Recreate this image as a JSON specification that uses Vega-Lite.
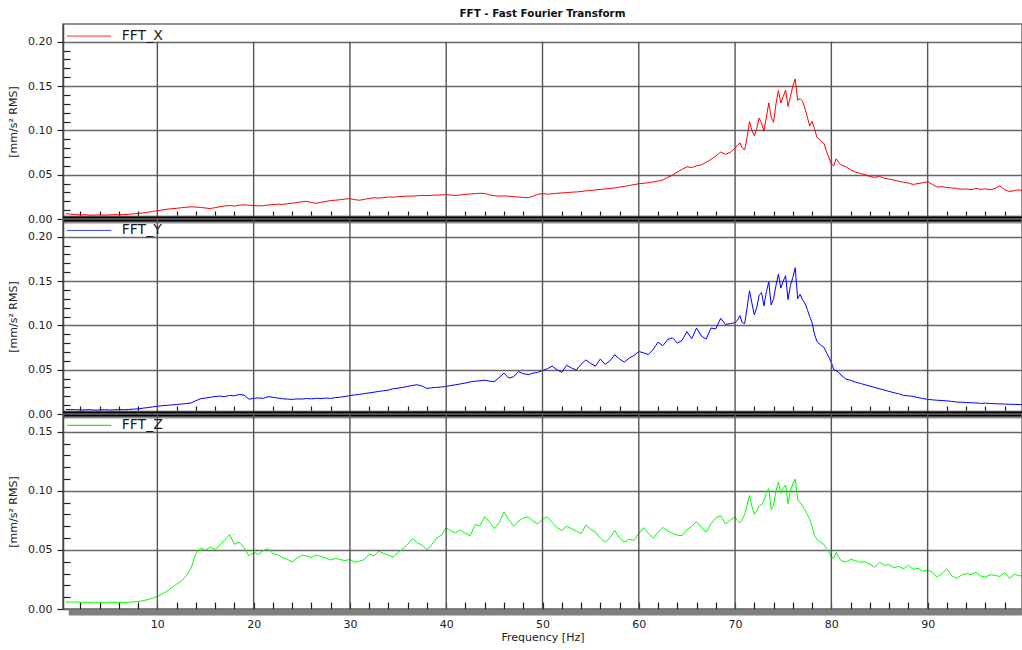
{
  "$schema": "https://vega.github.io/schema/vega-lite/v6.json",
  "autosize": {"type": "pad"},
  "padding": {"left": 6, "top": 8, "right": 0, "bottom": 6},
  "title": {"text": "FFT - Fast Fourier Transform", "fontSize": 10.4, "fontWeight": "bold", "font": "DejaVu Sans", "color": "#111111", "anchor": "middle", "offset": 4, "frame": "group"},
  "config": {
    "font": "DejaVu Sans",
    "view": {"stroke": "#6e6e6e", "strokeWidth": 1.5},
    "axis": {"labelFont": "DejaVu Sans", "titleFont": "DejaVu Sans"}
  },
  "spacing": 0,
  "bounds": "flush",
  "resolve": {"scale": {"x": "independent", "y": "independent"}, "axis": {"x": "independent", "y": "independent"}},
  "datasets": {
    "fft": [
      {"f":0.5,"x":0.0060,"y":0.0052,"z":0.0060},{"f":1.0,"x":0.0055,"y":0.0048,"z":0.0058},{"f":1.5,"x":0.0050,"y":0.0050,"z":0.0059},{"f":2.0,"x":0.0046,"y":0.0045,"z":0.0057},
      {"f":2.5,"x":0.0048,"y":0.0047,"z":0.0058},{"f":3.0,"x":0.0043,"y":0.0049,"z":0.0056},{"f":3.5,"x":0.0045,"y":0.0044,"z":0.0058},{"f":4.0,"x":0.0047,"y":0.0046,"z":0.0057},
      {"f":4.5,"x":0.0044,"y":0.0049,"z":0.0055},{"f":5.0,"x":0.0046,"y":0.0045,"z":0.0058},{"f":5.5,"x":0.0049,"y":0.0047,"z":0.0056},{"f":6.0,"x":0.0047,"y":0.0050,"z":0.0057},
      {"f":6.5,"x":0.0050,"y":0.0048,"z":0.0055},{"f":7.0,"x":0.0053,"y":0.0051,"z":0.0057},{"f":7.5,"x":0.0058,"y":0.0055,"z":0.0059},{"f":8.0,"x":0.0062,"y":0.0058,"z":0.0063},
      {"f":8.5,"x":0.0068,"y":0.0066,"z":0.0070},{"f":9.0,"x":0.0076,"y":0.0072,"z":0.0080},{"f":9.5,"x":0.0085,"y":0.0080,"z":0.0092},{"f":10.0,"x":0.0094,"y":0.0087,"z":0.0106},
      {"f":10.5,"x":0.0102,"y":0.0094,"z":0.0128},{"f":11.0,"x":0.0110,"y":0.0098,"z":0.0152},{"f":11.5,"x":0.0116,"y":0.0103,"z":0.0180},{"f":12.0,"x":0.0121,"y":0.0107,"z":0.0210},
      {"f":12.5,"x":0.0127,"y":0.0112,"z":0.0238},{"f":13.0,"x":0.0133,"y":0.0118,"z":0.0280},{"f":13.5,"x":0.0137,"y":0.0124,"z":0.0345},{"f":14.0,"x":0.0135,"y":0.0150,"z":0.0470},
      {"f":14.5,"x":0.0130,"y":0.0172,"z":0.0515},{"f":15.0,"x":0.0124,"y":0.0180,"z":0.0498},{"f":15.5,"x":0.0118,"y":0.0188,"z":0.0525},{"f":16.0,"x":0.0128,"y":0.0198,"z":0.0505},
      {"f":16.5,"x":0.0138,"y":0.0202,"z":0.0540},{"f":17.0,"x":0.0148,"y":0.0196,"z":0.0585},{"f":17.5,"x":0.0152,"y":0.0210,"z":0.0630},{"f":18.0,"x":0.0146,"y":0.0205,"z":0.0548},
      {"f":18.5,"x":0.0156,"y":0.0220,"z":0.0565},{"f":19.0,"x":0.0160,"y":0.0214,"z":0.0520},{"f":19.5,"x":0.0156,"y":0.0168,"z":0.0450},{"f":20.0,"x":0.0152,"y":0.0176,"z":0.0478},
      {"f":20.5,"x":0.0148,"y":0.0182,"z":0.0462},{"f":21.0,"x":0.0150,"y":0.0176,"z":0.0495},{"f":21.5,"x":0.0158,"y":0.0196,"z":0.0510},{"f":22.0,"x":0.0162,"y":0.0188,"z":0.0470},
      {"f":22.5,"x":0.0168,"y":0.0180,"z":0.0458},{"f":23.0,"x":0.0165,"y":0.0172,"z":0.0435},{"f":23.5,"x":0.0172,"y":0.0168,"z":0.0420},{"f":24.0,"x":0.0178,"y":0.0165,"z":0.0398},
      {"f":24.5,"x":0.0186,"y":0.0170,"z":0.0430},{"f":25.0,"x":0.0194,"y":0.0168,"z":0.0455},{"f":25.5,"x":0.0200,"y":0.0175,"z":0.0450},{"f":26.0,"x":0.0186,"y":0.0170,"z":0.0438},
      {"f":26.5,"x":0.0176,"y":0.0178,"z":0.0456},{"f":27.0,"x":0.0190,"y":0.0174,"z":0.0445},{"f":27.5,"x":0.0198,"y":0.0180,"z":0.0430},{"f":28.0,"x":0.0208,"y":0.0176,"z":0.0415},
      {"f":28.5,"x":0.0212,"y":0.0185,"z":0.0428},{"f":29.0,"x":0.0218,"y":0.0190,"z":0.0418},{"f":29.5,"x":0.0225,"y":0.0198,"z":0.0410},{"f":30.0,"x":0.0230,"y":0.0208,"z":0.0420},
      {"f":30.5,"x":0.0218,"y":0.0215,"z":0.0395},{"f":31.0,"x":0.0212,"y":0.0222,"z":0.0405},{"f":31.5,"x":0.0222,"y":0.0230,"z":0.0418},{"f":32.0,"x":0.0232,"y":0.0238,"z":0.0465},
      {"f":32.5,"x":0.0240,"y":0.0246,"z":0.0448},{"f":33.0,"x":0.0236,"y":0.0255,"z":0.0490},{"f":33.5,"x":0.0242,"y":0.0262,"z":0.0470},{"f":34.0,"x":0.0248,"y":0.0270,"z":0.0455},
      {"f":34.5,"x":0.0246,"y":0.0285,"z":0.0440},{"f":35.0,"x":0.0252,"y":0.0292,"z":0.0478},{"f":35.5,"x":0.0255,"y":0.0300,"z":0.0510},{"f":36.0,"x":0.0258,"y":0.0312,"z":0.0548},
      {"f":36.5,"x":0.0258,"y":0.0322,"z":0.0595},{"f":37.0,"x":0.0262,"y":0.0330,"z":0.0560},{"f":37.5,"x":0.0266,"y":0.0315,"z":0.0540},{"f":38.0,"x":0.0264,"y":0.0288,"z":0.0500},
      {"f":38.5,"x":0.0268,"y":0.0296,"z":0.0545},{"f":39.0,"x":0.0270,"y":0.0300,"z":0.0600},{"f":39.5,"x":0.0272,"y":0.0305,"z":0.0625},{"f":40.0,"x":0.0274,"y":0.0310,"z":0.0690},
      {"f":40.5,"x":0.0270,"y":0.0322,"z":0.0660},{"f":41.0,"x":0.0266,"y":0.0330,"z":0.0645},{"f":41.5,"x":0.0272,"y":0.0340,"z":0.0668},{"f":42.0,"x":0.0278,"y":0.0350,"z":0.0640},
      {"f":42.5,"x":0.0282,"y":0.0362,"z":0.0620},{"f":43.0,"x":0.0286,"y":0.0370,"z":0.0715},{"f":43.5,"x":0.0290,"y":0.0375,"z":0.0705},{"f":44.0,"x":0.0288,"y":0.0382,"z":0.0780},
      {"f":44.5,"x":0.0272,"y":0.0370,"z":0.0735},{"f":45.0,"x":0.0262,"y":0.0365,"z":0.0680},{"f":45.5,"x":0.0258,"y":0.0410,"z":0.0730},{"f":46.0,"x":0.0260,"y":0.0462,"z":0.0820},
      {"f":46.5,"x":0.0258,"y":0.0405,"z":0.0755},{"f":47.0,"x":0.0252,"y":0.0420,"z":0.0700},{"f":47.5,"x":0.0248,"y":0.0478,"z":0.0745},{"f":48.0,"x":0.0244,"y":0.0455,"z":0.0770},
      {"f":48.5,"x":0.0240,"y":0.0445,"z":0.0780},{"f":49.0,"x":0.0256,"y":0.0460,"z":0.0745},{"f":49.5,"x":0.0278,"y":0.0470,"z":0.0720},{"f":50.0,"x":0.0286,"y":0.0490,"z":0.0760},
      {"f":50.5,"x":0.0280,"y":0.0510,"z":0.0780},{"f":51.0,"x":0.0284,"y":0.0540,"z":0.0730},{"f":51.5,"x":0.0290,"y":0.0500,"z":0.0690},{"f":52.0,"x":0.0294,"y":0.0470,"z":0.0665},
      {"f":52.5,"x":0.0298,"y":0.0550,"z":0.0700},{"f":53.0,"x":0.0302,"y":0.0520,"z":0.0680},{"f":53.5,"x":0.0305,"y":0.0495,"z":0.0660},{"f":54.0,"x":0.0310,"y":0.0560,"z":0.0637},
      {"f":54.5,"x":0.0318,"y":0.0610,"z":0.0710},{"f":55.0,"x":0.0322,"y":0.0570,"z":0.0675},{"f":55.5,"x":0.0328,"y":0.0540,"z":0.0650},{"f":56.0,"x":0.0334,"y":0.0620,"z":0.0600},
      {"f":56.5,"x":0.0338,"y":0.0560,"z":0.0566},{"f":57.0,"x":0.0346,"y":0.0600,"z":0.0600},{"f":57.5,"x":0.0350,"y":0.0668,"z":0.0665},{"f":58.0,"x":0.0360,"y":0.0620,"z":0.0600},
      {"f":58.5,"x":0.0368,"y":0.0585,"z":0.0566},{"f":59.0,"x":0.0378,"y":0.0630,"z":0.0590},{"f":59.5,"x":0.0388,"y":0.0660,"z":0.0580},{"f":60.0,"x":0.0398,"y":0.0705,"z":0.0640},
      {"f":60.5,"x":0.0402,"y":0.0690,"z":0.0688},{"f":61.0,"x":0.0410,"y":0.0670,"z":0.0640},{"f":61.5,"x":0.0418,"y":0.0730,"z":0.0600},{"f":62.0,"x":0.0428,"y":0.0810,"z":0.0650},
      {"f":62.5,"x":0.0440,"y":0.0770,"z":0.0690},{"f":63.0,"x":0.0470,"y":0.0840,"z":0.0660},{"f":63.5,"x":0.0495,"y":0.0860,"z":0.0640},{"f":64.0,"x":0.0530,"y":0.0800,"z":0.0625},
      {"f":64.5,"x":0.0560,"y":0.0830,"z":0.0620},{"f":65.0,"x":0.0590,"y":0.0930,"z":0.0670},{"f":65.5,"x":0.0580,"y":0.0850,"z":0.0700},{"f":66.0,"x":0.0600,"y":0.0970,"z":0.0740},
      {"f":66.5,"x":0.0612,"y":0.0880,"z":0.0690},{"f":67.0,"x":0.0640,"y":0.0845,"z":0.0650},{"f":67.5,"x":0.0672,"y":0.0970,"z":0.0720},{"f":68.0,"x":0.0710,"y":0.0960,"z":0.0770},
      {"f":68.5,"x":0.0755,"y":0.1080,"z":0.0790},{"f":69.0,"x":0.0730,"y":0.1010,"z":0.0720},{"f":69.5,"x":0.0752,"y":0.1020,"z":0.0750},{"f":70.0,"x":0.0800,"y":0.1030,"z":0.0780},
      {"f":70.25,"x":0.0830,"y":0.1060,"z":0.0750},{"f":70.5,"x":0.0860,"y":0.1110,"z":0.0730},{"f":70.75,"x":0.0800,"y":0.1030,"z":0.0760},{"f":71.0,"x":0.0780,"y":0.1020,"z":0.0800},
      {"f":71.25,"x":0.0920,"y":0.1200,"z":0.0880},{"f":71.5,"x":0.1100,"y":0.1390,"z":0.0960},{"f":71.75,"x":0.1000,"y":0.1250,"z":0.0870},{"f":72.0,"x":0.0940,"y":0.1120,"z":0.0800},
      {"f":72.25,"x":0.1020,"y":0.1200,"z":0.0830},{"f":72.5,"x":0.1140,"y":0.1340,"z":0.0870},{"f":72.75,"x":0.1080,"y":0.1370,"z":0.0880},{"f":73.0,"x":0.0990,"y":0.1220,"z":0.0920},
      {"f":73.25,"x":0.1150,"y":0.1380,"z":0.0980},{"f":73.5,"x":0.1310,"y":0.1490,"z":0.1020},{"f":73.75,"x":0.1150,"y":0.1230,"z":0.0840},{"f":74.0,"x":0.1090,"y":0.1300,"z":0.0880},
      {"f":74.25,"x":0.1300,"y":0.1450,"z":0.1000},{"f":74.5,"x":0.1450,"y":0.1580,"z":0.1075},{"f":74.75,"x":0.1310,"y":0.1420,"z":0.0980},{"f":75.0,"x":0.1380,"y":0.1500,"z":0.1020},
      {"f":75.25,"x":0.1455,"y":0.1560,"z":0.1050},{"f":75.5,"x":0.1270,"y":0.1290,"z":0.0890},{"f":75.75,"x":0.1380,"y":0.1450,"z":0.1000},{"f":76.0,"x":0.1500,"y":0.1540,"z":0.1060},
      {"f":76.25,"x":0.1580,"y":0.1650,"z":0.1100},{"f":76.5,"x":0.1340,"y":0.1300,"z":0.0930},{"f":76.75,"x":0.1360,"y":0.1350,"z":0.0900},{"f":77.0,"x":0.1330,"y":0.1290,"z":0.0870},
      {"f":77.25,"x":0.1250,"y":0.1250,"z":0.0840},{"f":77.5,"x":0.1150,"y":0.1180,"z":0.0800},{"f":77.75,"x":0.1050,"y":0.1100,"z":0.0760},{"f":78.0,"x":0.1100,"y":0.1030,"z":0.0700},
      {"f":78.25,"x":0.1020,"y":0.0900,"z":0.0620},{"f":78.5,"x":0.0920,"y":0.0820,"z":0.0590},{"f":78.75,"x":0.0900,"y":0.0790,"z":0.0570},{"f":79.0,"x":0.0870,"y":0.0770,"z":0.0560},
      {"f":79.25,"x":0.0850,"y":0.0750,"z":0.0545},{"f":79.5,"x":0.0760,"y":0.0690,"z":0.0510},{"f":79.75,"x":0.0690,"y":0.0640,"z":0.0480},{"f":80.0,"x":0.0620,"y":0.0580,"z":0.0440},
      {"f":80.25,"x":0.0600,"y":0.0500,"z":0.0430},{"f":80.5,"x":0.0680,"y":0.0490,"z":0.0480},{"f":80.75,"x":0.0640,"y":0.0470,"z":0.0440},{"f":81.0,"x":0.0610,"y":0.0440,"z":0.0410},
      {"f":81.5,"x":0.0590,"y":0.0395,"z":0.0397},{"f":82.0,"x":0.0555,"y":0.0380,"z":0.0420},{"f":82.5,"x":0.0530,"y":0.0360,"z":0.0410},{"f":83.0,"x":0.0515,"y":0.0345,"z":0.0395},
      {"f":83.5,"x":0.0500,"y":0.0330,"z":0.0400},{"f":84.0,"x":0.0480,"y":0.0315,"z":0.0380},{"f":84.5,"x":0.0470,"y":0.0300,"z":0.0354},{"f":85.0,"x":0.0480,"y":0.0285,"z":0.0395},
      {"f":85.5,"x":0.0460,"y":0.0270,"z":0.0370},{"f":86.0,"x":0.0450,"y":0.0255,"z":0.0375},{"f":86.5,"x":0.0440,"y":0.0240,"z":0.0350},{"f":87.0,"x":0.0425,"y":0.0228,"z":0.0360},
      {"f":87.5,"x":0.0415,"y":0.0210,"z":0.0340},{"f":88.0,"x":0.0405,"y":0.0205,"z":0.0370},{"f":88.5,"x":0.0390,"y":0.0198,"z":0.0335},{"f":89.0,"x":0.0400,"y":0.0185,"z":0.0345},
      {"f":89.5,"x":0.0410,"y":0.0175,"z":0.0320},{"f":90.0,"x":0.0420,"y":0.0165,"z":0.0330},{"f":90.5,"x":0.0390,"y":0.0160,"z":0.0310},{"f":91.0,"x":0.0360,"y":0.0155,"z":0.0270},
      {"f":91.5,"x":0.0365,"y":0.0152,"z":0.0300},{"f":92.0,"x":0.0355,"y":0.0148,"z":0.0340},{"f":92.5,"x":0.0350,"y":0.0142,"z":0.0280},{"f":93.0,"x":0.0345,"y":0.0135,"z":0.0260},
      {"f":93.5,"x":0.0335,"y":0.0133,"z":0.0285},{"f":94.0,"x":0.0340,"y":0.0130,"z":0.0300},{"f":94.5,"x":0.0330,"y":0.0127,"z":0.0290},{"f":95.0,"x":0.0345,"y":0.0125,"z":0.0310},
      {"f":95.5,"x":0.0335,"y":0.0120,"z":0.0280},{"f":96.0,"x":0.0340,"y":0.0122,"z":0.0270},{"f":96.5,"x":0.0330,"y":0.0119,"z":0.0290},{"f":97.0,"x":0.0345,"y":0.0116,"z":0.0285},
      {"f":97.5,"x":0.0375,"y":0.0114,"z":0.0275},{"f":98.0,"x":0.0330,"y":0.0112,"z":0.0310},{"f":98.5,"x":0.0310,"y":0.0110,"z":0.0260},{"f":99.0,"x":0.0320,"y":0.0108,"z":0.0295},
      {"f":99.5,"x":0.0330,"y":0.0107,"z":0.0280},{"f":100.0,"x":0.0315,"y":0.0105,"z":0.0290}
    ],
    "majors": [{"g":10},{"g":20},{"g":30},{"g":40},{"g":50},{"g":60},{"g":70},{"g":80},{"g":90}]
  },
  "vconcat": [
    {
      "width": 959, "height": 195,
      "resolve": {"axis": {"x": "independent", "y": "independent"}},
      "layer": [
        {"data": {"name": "fft"}, "mark": {"type": "line", "stroke": "#ff0000", "strokeWidth": 1, "clip": true},
         "encoding": {
           "x": {"field": "f", "type": "quantitative", "scale": {"domain": [0.2, 99.8], "nice": false, "zero": false},
                 "axis": {"values": [2,4,6,8,12,14,16,18,22,24,26,28,32,34,36,38,42,44,46,48,52,54,56,58,62,64,66,68,72,74,76,78,82,84,86,88,92,94,96,98],
                          "tickSize": -8, "tickColor": "#1a1a1a", "tickWidth": 1.2, "labels": false, "title": null, "domainColor": "#8c8c8c", "domainWidth": 8, "grid": false}},
           "y": {"field": "x", "type": "quantitative", "scale": {"domain": [0, 0.22], "nice": false},
                 "axis": {"values": [0,0.01,0.02,0.03,0.04,0.05,0.06,0.07,0.08,0.09,0.1,0.11,0.12,0.13,0.14,0.15,0.16,0.17,0.18,0.19,0.2],
                          "format": ".2f", "labelExpr": "round(datum.value*100) % 5 === 0 ? datum.label : ''",
                          "tickSize": {"condition": {"test": "round(datum.value*100) % 5 !== 0", "value": -7}, "value": 6},
                          "grid": true, "gridOpacity": {"condition": {"test": "round(datum.value*100) % 5 !== 0", "value": 0}, "value": 1},
                          "gridColor": "#666666", "gridWidth": 1.4, "tickColor": "#222222", "tickWidth": 1.2, "domainColor": "#444444", "domainWidth": 1.5,
                          "labelFontSize": 11, "labelColor": "#222222", "labelPadding": 5, "labelOverlap": false, "labelBound": false,
                          "title": "[mm/s² RMS]", "titleFontSize": 11, "titleFontWeight": "normal", "titleColor": "#222222", "titlePadding": 9}}
         }},
        {"data": {"name": "majors"}, "mark": {"type": "rule", "stroke": "#555555", "strokeWidth": 1.4},
         "encoding": {"x": {"field": "g", "type": "quantitative", "axis": null},
                      "y": {"datum": 0, "type": "quantitative", "axis": null},
                      "y2": {"datum": 0.2}}},
        {"data": {"values": [{"label": "FFT_X"}]}, "mark": {"type": "rule", "stroke": "#ff3030", "strokeWidth": 1},
         "encoding": {"x": {"datum": 0.62, "type": "quantitative", "axis": null}, "x2": {"datum": 5.2},
                      "y": {"datum": 0.2064, "type": "quantitative", "axis": null}}},
        {"data": {"values": [{"label": "FFT_X"}]}, "mark": {"type": "text", "align": "left", "baseline": "middle", "fontSize": 14, "color": "#1a1a1a"},
         "encoding": {"x": {"datum": 6.3, "type": "quantitative", "axis": null},
                      "y": {"datum": 0.2064, "type": "quantitative", "axis": null},
                      "text": {"field": "label"}}},
        {"data": {"values": [{}]}, "mark": {"type": "rule", "stroke": "#000000", "strokeWidth": 5},
         "encoding": {"y": {"datum": 0, "type": "quantitative", "axis": null}}}
      ]
    },
    {
      "width": 959, "height": 195,
      "resolve": {"axis": {"x": "independent", "y": "independent"}},
      "layer": [
        {"data": {"name": "fft"}, "mark": {"type": "line", "stroke": "#0000ff", "strokeWidth": 1, "clip": true},
         "encoding": {
           "x": {"field": "f", "type": "quantitative", "scale": {"domain": [0.2, 99.8], "nice": false, "zero": false},
                 "axis": {"values": [2,4,6,8,12,14,16,18,22,24,26,28,32,34,36,38,42,44,46,48,52,54,56,58,62,64,66,68,72,74,76,78,82,84,86,88,92,94,96,98],
                          "tickSize": -8, "tickColor": "#1a1a1a", "tickWidth": 1.2, "labels": false, "title": null, "domainColor": "#8c8c8c", "domainWidth": 8, "grid": false}},
           "y": {"field": "y", "type": "quantitative", "scale": {"domain": [0, 0.22], "nice": false},
                 "axis": {"values": [0,0.01,0.02,0.03,0.04,0.05,0.06,0.07,0.08,0.09,0.1,0.11,0.12,0.13,0.14,0.15,0.16,0.17,0.18,0.19,0.2],
                          "format": ".2f", "labelExpr": "round(datum.value*100) % 5 === 0 ? datum.label : ''",
                          "tickSize": {"condition": {"test": "round(datum.value*100) % 5 !== 0", "value": -7}, "value": 6},
                          "grid": true, "gridOpacity": {"condition": {"test": "round(datum.value*100) % 5 !== 0", "value": 0}, "value": 1},
                          "gridColor": "#666666", "gridWidth": 1.4, "tickColor": "#222222", "tickWidth": 1.2, "domainColor": "#444444", "domainWidth": 1.5,
                          "labelFontSize": 11, "labelColor": "#222222", "labelPadding": 5, "labelOverlap": false, "labelBound": false,
                          "title": "[mm/s² RMS]", "titleFontSize": 11, "titleFontWeight": "normal", "titleColor": "#222222", "titlePadding": 9}}
         }},
        {"data": {"name": "majors"}, "mark": {"type": "rule", "stroke": "#555555", "strokeWidth": 1.4},
         "encoding": {"x": {"field": "g", "type": "quantitative", "axis": null},
                      "y": {"datum": 0, "type": "quantitative", "axis": null},
                      "y2": {"datum": 0.22}}},
        {"data": {"values": [{"label": "FFT_Y"}]}, "mark": {"type": "rule", "stroke": "#4040ff", "strokeWidth": 1},
         "encoding": {"x": {"datum": 0.62, "type": "quantitative", "axis": null}, "x2": {"datum": 5.2},
                      "y": {"datum": 0.2071, "type": "quantitative", "axis": null}}},
        {"data": {"values": [{"label": "FFT_Y"}]}, "mark": {"type": "text", "align": "left", "baseline": "middle", "fontSize": 14, "color": "#1a1a1a"},
         "encoding": {"x": {"datum": 6.3, "type": "quantitative", "axis": null},
                      "y": {"datum": 0.2071, "type": "quantitative", "axis": null},
                      "text": {"field": "label"}}},
        {"data": {"values": [{}]}, "mark": {"type": "rule", "stroke": "#000000", "strokeWidth": 5},
         "encoding": {"y": {"datum": 0, "type": "quantitative", "axis": null}}}
      ]
    },
    {
      "width": 959, "height": 195,
      "resolve": {"axis": {"x": "independent", "y": "independent"}},
      "layer": [
        {"data": {"name": "fft"}, "mark": {"type": "line", "stroke": "#00ff00", "strokeWidth": 1, "clip": true},
         "encoding": {
           "x": {"field": "f", "type": "quantitative", "scale": {"domain": [0.2, 99.8], "nice": false, "zero": false},
                 "axis": {"values": [2,4,6,8,10,12,14,16,18,20,22,24,26,28,30,32,34,36,38,40,42,44,46,48,50,52,54,56,58,60,62,64,66,68,70,72,74,76,78,80,82,84,86,88,90,92,94,96,98],
                          "labelExpr": "datum.value % 10 === 0 ? datum.label : ''",
                          "tickSize": -7, "tickColor": "#1a1a1a", "tickWidth": 1.2, "domain": false, "grid": false,
                          "labelFontSize": 11, "labelColor": "#222222", "labelPadding": 16, "labelOverlap": false, "labelFlush": false, "labelBound": false,
                          "title": "Frequency [Hz]", "titleFontSize": 11, "titleFontWeight": "normal", "titleColor": "#222222", "titlePadding": 2}},
           "y": {"field": "z", "type": "quantitative", "scale": {"domain": [0, 0.165], "nice": false},
                 "axis": {"values": [0,0.01,0.02,0.03,0.04,0.05,0.06,0.07,0.08,0.09,0.1,0.11,0.12,0.13,0.14,0.15],
                          "format": ".2f", "labelExpr": "round(datum.value*100) % 5 === 0 ? datum.label : ''",
                          "tickSize": {"condition": {"test": "round(datum.value*100) % 5 !== 0", "value": -7}, "value": 6},
                          "grid": true, "gridOpacity": {"condition": {"test": "round(datum.value*100) % 5 !== 0", "value": 0}, "value": 1},
                          "gridColor": "#666666", "gridWidth": 1.4, "tickColor": "#222222", "tickWidth": 1.2, "domainColor": "#444444", "domainWidth": 1.5,
                          "labelFontSize": 11, "labelColor": "#222222", "labelPadding": 5, "labelOverlap": false, "labelBound": false,
                          "title": "[mm/s² RMS]", "titleFontSize": 11, "titleFontWeight": "normal", "titleColor": "#222222", "titlePadding": 9}}
         }},
        {"data": {"name": "majors"}, "mark": {"type": "rule", "stroke": "#555555", "strokeWidth": 1.4},
         "encoding": {"x": {"field": "g", "type": "quantitative", "axis": null},
                      "y": {"datum": 0, "type": "quantitative", "axis": null},
                      "y2": {"datum": 0.165}}},
        {"data": {"values": [{"label": "FFT_Z"}]}, "mark": {"type": "rule", "stroke": "#22ee22", "strokeWidth": 1.2},
         "encoding": {"x": {"datum": 0.62, "type": "quantitative", "axis": null}, "x2": {"datum": 5.2},
                      "y": {"datum": 0.1553, "type": "quantitative", "axis": null}}},
        {"data": {"values": [{"label": "FFT_Z"}]}, "mark": {"type": "text", "align": "left", "baseline": "middle", "fontSize": 14, "color": "#1a1a1a"},
         "encoding": {"x": {"datum": 6.3, "type": "quantitative", "axis": null},
                      "y": {"datum": 0.1553, "type": "quantitative", "axis": null},
                      "text": {"field": "label"}}},
        {"data": {"values": [{}]}, "mark": {"type": "rule", "stroke": "#808080", "strokeWidth": 6, "yOffset": 3.5},
         "encoding": {"x": {"datum": 0.8, "type": "quantitative", "axis": null}, "x2": {"datum": 99.8},
                      "y": {"datum": 0, "type": "quantitative", "axis": null}}}
      ]
    }
  ]
}
